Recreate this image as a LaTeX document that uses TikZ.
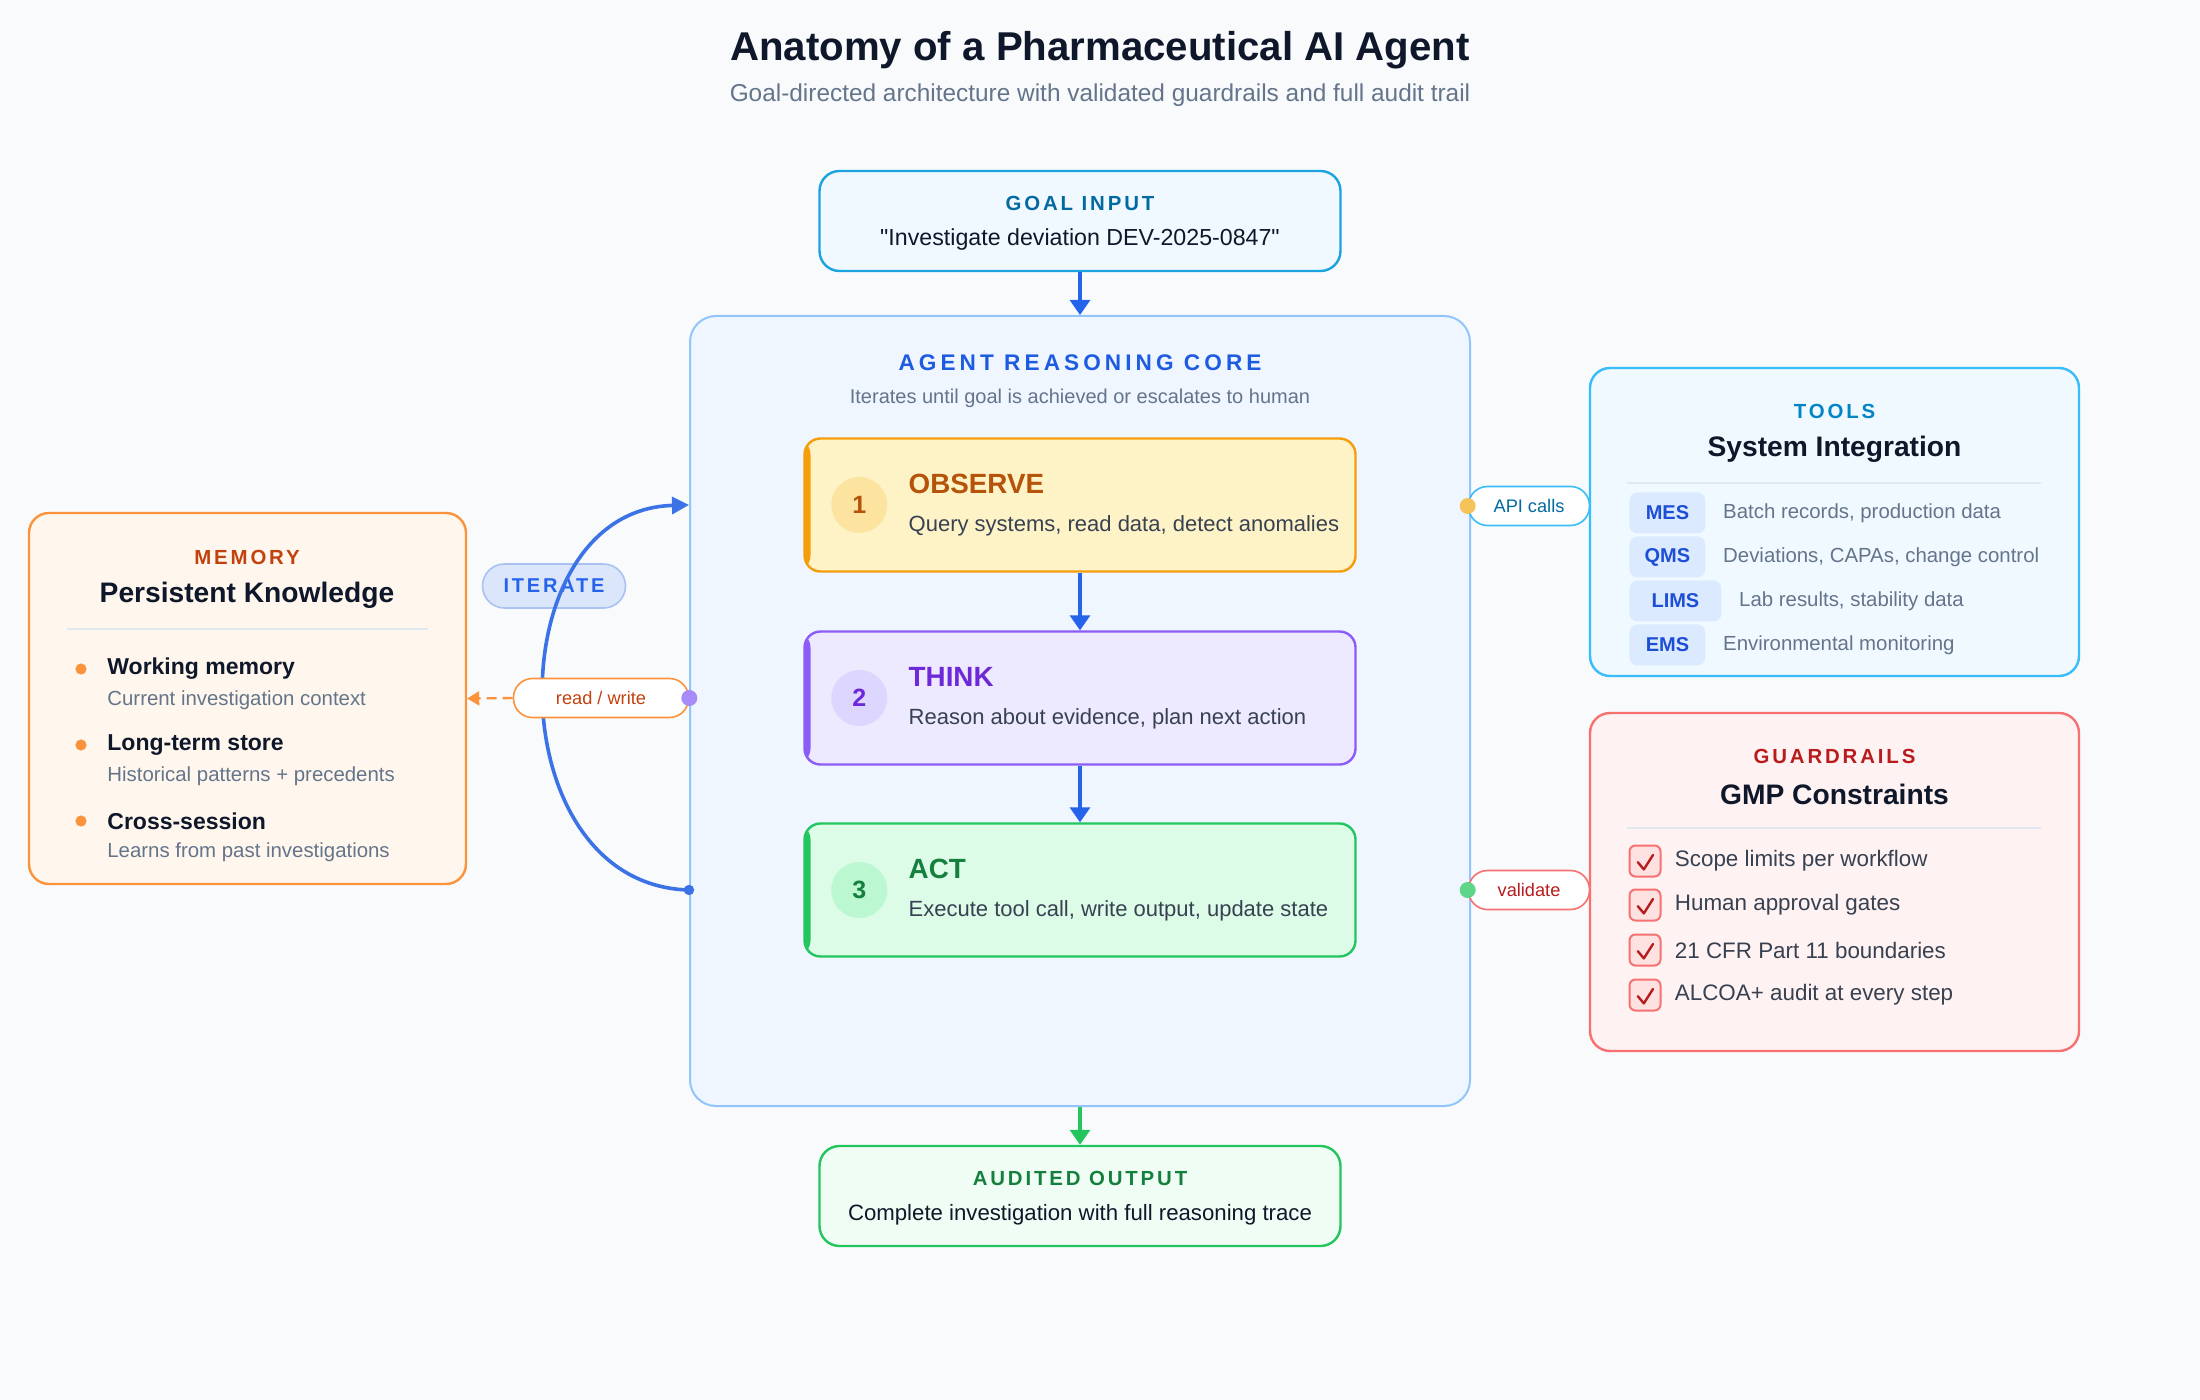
\documentclass[tikz,border=0pt]{standalone}
\usepackage{fontspec}
\setmainfont{Liberation Sans}
\newfontfamily\rawfont{Liberation Sans}
\usepackage{xcolor}
\usetikzlibrary{arrows.meta,positioning,calc}

\definecolor{pageBg}{HTML}{F8FAFC}
\definecolor{ink}{HTML}{0F172A}
\definecolor{muted}{HTML}{64748B}
\definecolor{bodyText}{HTML}{374151}
\definecolor{rule}{HTML}{E2E8F0}
\definecolor{flowBlue}{HTML}{2563EB}
\definecolor{loopBlue}{HTML}{3B73E6}
\definecolor{goalLine}{HTML}{1AA3DE}
\definecolor{goalFill}{HTML}{F0F9FF}
\definecolor{goalText}{HTML}{0369A1}
\definecolor{coreLine}{HTML}{93C5FD}
\definecolor{coreFill}{HTML}{EFF6FF}
\definecolor{coreText}{HTML}{1D5BE0}
\definecolor{obsLine}{HTML}{F59E0B}
\definecolor{obsFill}{HTML}{FEF3C7}
\definecolor{obsDot}{HTML}{FDE3A0}
\definecolor{obsText}{HTML}{B45309}
\definecolor{thkLine}{HTML}{8B5CF6}
\definecolor{thkFill}{HTML}{EDE9FE}
\definecolor{thkDot}{HTML}{DDD6FE}
\definecolor{thkText}{HTML}{6D28D9}
\definecolor{actLine}{HTML}{22C55E}
\definecolor{actFill}{HTML}{DCFCE7}
\definecolor{actDot}{HTML}{BBF7D0}
\definecolor{actText}{HTML}{15803D}
\definecolor{outFill}{HTML}{F0FDF4}
\definecolor{memLine}{HTML}{FB923C}
\definecolor{memFill}{HTML}{FFF7ED}
\definecolor{memText}{HTML}{C2410C}
\definecolor{toolLine}{HTML}{38BDF8}
\definecolor{toolText}{HTML}{0284C7}
\definecolor{tagFill}{HTML}{DBEAFE}
\definecolor{tagText}{HTML}{1D4ED8}
\definecolor{guardLine}{HTML}{F87171}
\definecolor{guardFill}{HTML}{FEF2F2}
\definecolor{guardBox}{HTML}{FEE2E2}
\definecolor{guardText}{HTML}{B91C1C}
\definecolor{iterFill}{HTML}{DBE6FB}
\definecolor{iterLine}{HTML}{A9C2F2}
\definecolor{rwDot}{HTML}{A78BFA}
\definecolor{apiDot}{HTML}{F6C35A}
\definecolor{valDot}{HTML}{5ED68A}

\newcommand{\fs}[1]{\fontsize{#1}{#1}\selectfont}
\newcommand{\spaced}[2]{{\bfseries\addfontfeatures{LetterSpace=#1}#2}}
\newcommand{\tick}[1]{\draw[guardText,line width=1.2pt,line cap=round,line join=round]
  ([xshift=-3.6pt,yshift=-0.6pt]#1.center) -- ([xshift=-0.6pt,yshift=-4.2pt]#1.center) -- ([xshift=4pt,yshift=3pt]#1.center);}

\begin{document}
\begin{tikzpicture}[x=0.5pt,y=-0.5pt,>={Triangle[length=7.5pt,width=10pt]},
  accent/.style={path picture={\fill[#1] (path picture bounding box.north west)
    rectangle ([xshift=3pt]path picture bounding box.south west);}}]
  \tikzstyle{panel}=[draw,rounded corners=10pt,line width=1.2pt]
  \tikzstyle{stepbox}=[draw,rounded corners=8pt,line width=1.2pt,minimum width=275.5pt,minimum height=66.5pt]
  \tikzstyle{numdot}=[circle,minimum size=28pt,inner sep=0pt,font=\fs{12.5}\bfseries]
  \tikzstyle{steptitle}=[anchor=west,inner sep=0pt,font=\fs{13.9}\bfseries]
  \tikzstyle{stepdesc}=[anchor=west,inner sep=0pt,font=\fs{11},text=bodyText]
  \tikzstyle{kicker}=[inner sep=0pt,font=\fs{10.2}]
  \tikzstyle{heading}=[inner sep=0pt,font=\fs{14.1}\bfseries,text=ink]
  \tikzstyle{pill}=[draw,rounded corners=9.5pt,line width=0.8pt,fill=white,minimum height=19.5pt,inner sep=0pt,font=\fs{9.1}]
  \tikzstyle{tag}=[fill=tagFill,rounded corners=4pt,minimum height=20.5pt,inner sep=0pt,font=\fs{10}\bfseries,text=tagText]
  \tikzstyle{item}=[anchor=west,inner sep=0pt,font=\fs{10.2},text=muted]
  \tikzstyle{checkbox}=[draw=guardLine,fill=guardBox,line width=1pt,rounded corners=3pt,minimum size=15.5pt,inner sep=0pt]
  \tikzstyle{flow}=[->,line width=1.6pt,draw=flowBlue]
  \tikzstyle{divider}=[draw=rule,line width=0.8pt]

  \fill[pageBg] (0,0) rectangle (2200,1400);
  \useasboundingbox (0,0) rectangle (2200,1400);

  % heading
  \node[inner sep=0pt,font=\fs{20.1}\bfseries,text=ink] (title) at (1100,50) {Anatomy of a Pharmaceutical AI Agent};
  \node[inner sep=0pt,font=\fs{12.2},text=muted] (subtitle) at (1100,95) {Goal-directed architecture with validated guardrails and full audit trail};

  % goal and output
  \node[panel,draw=goalLine,fill=goalFill,minimum width=260.5pt,minimum height=50pt] (goal) at (1080,221) {};
  \node[kicker,text=goalText] (goalKicker) at (1080,203) {\spaced{14}{GOAL INPUT}};
  \node[inner sep=0pt,font=\fs{11.6}\rawfont,text=ink] (goalText) at (1080,240) {"Investigate deviation DEV-2025-0847"};

  \node[panel,draw=coreLine,fill=coreFill,rounded corners=13pt,line width=1pt,minimum width=390pt,minimum height=395pt] (core) at (1080,711) {};
  \node[inner sep=0pt,font=\fs{11.3},text=coreText] (coreKicker) at (1080,363) {\spaced{18}{AGENT REASONING CORE}};
  \node[inner sep=0pt,font=\fs{10},text=muted] (coreSub) at (1080,398) {Iterates until goal is achieved or escalates to human};

  \node[panel,draw=actLine,fill=outFill,minimum width=260.5pt,minimum height=50pt] (output) at (1080,1196) {};
  \node[kicker,text=actText] (outKicker) at (1080,1178) {\spaced{14}{AUDITED OUTPUT}};
  \node[inner sep=0pt,font=\fs{11.1},text=ink] (outText) at (1080,1215) {Complete investigation with full reasoning trace};

  % reasoning steps
  \node[stepbox,draw=obsLine,fill=obsFill,accent=obsLine] (observe) at (1080,505) {};
  \node[numdot,fill=obsDot,text=obsText] (observeNum) at ([xshift=28pt]observe.west) {1};
  \node[steptitle,text=obsText] (observeTitle) at ([xshift=52.5pt,yshift=10.5pt]observe.west) {OBSERVE};
  \node[stepdesc] (observeDesc) at ([xshift=52.5pt,yshift=-10.5pt]observe.west) {Query systems, read data, detect anomalies};

  \node[stepbox,draw=thkLine,fill=thkFill,accent=thkLine] (think) at (1080,698) {};
  \node[numdot,fill=thkDot,text=thkText] (thinkNum) at ([xshift=28pt]think.west) {2};
  \node[steptitle,text=thkText] (thinkTitle) at ([xshift=52.5pt,yshift=10.5pt]think.west) {THINK};
  \node[stepdesc] (thinkDesc) at ([xshift=52.5pt,yshift=-10.5pt]think.west) {Reason about evidence, plan next action};

  \node[stepbox,draw=actLine,fill=actFill,accent=actLine] (act) at (1080,890) {};
  \node[numdot,fill=actDot,text=actText] (actNum) at ([xshift=28pt]act.west) {3};
  \node[steptitle,text=actText] (actTitle) at ([xshift=52.5pt,yshift=10.5pt]act.west) {ACT};
  \node[stepdesc] (actDesc) at ([xshift=52.5pt,yshift=-10.5pt]act.west) {Execute tool call, write output, update state};

  \draw[flow] (goal.south) -- (core.north);
  \draw[flow] (observe.south) -- (think.north);
  \draw[flow] (think.south) -- (act.north);
  \draw[flow,draw=actLine] (core.south) -- (output.north);

  % memory
  \node[panel,draw=memLine,fill=memFill,minimum width=218.5pt,minimum height=185.5pt] (memory) at (247.5,698.5) {};
  \node[kicker,text=memText] (memKicker) at (247,557) {\spaced{14}{MEMORY}};
  \node[heading] (memTitle) at (247,595) {Persistent Knowledge};
  \draw[divider] (67,629) -- (428,629);
  \fill[memLine] (81,669) circle (2.8pt);
  \node[anchor=west,inner sep=0pt,font=\fs{11.5}\bfseries,text=ink] (memA) at (107,669) {Working memory};
  \node[item] (memAsub) at (107,700) {Current investigation context};
  \fill[memLine] (81,745) circle (2.8pt);
  \node[anchor=west,inner sep=0pt,font=\fs{11.5}\bfseries,text=ink] (memB) at (107,745) {Long-term store};
  \node[item] (memBsub) at (107,776) {Historical patterns + precedents};
  \fill[memLine] (81,821) circle (2.8pt);
  \node[anchor=west,inner sep=0pt,font=\fs{11.5}\bfseries,text=ink] (memC) at (107,821) {Cross-session};
  \node[item] (memCsub) at (107,852) {Learns from past investigations};

  % iterate loop
  \node[draw=iterLine,fill=iterFill,rounded corners=11pt,line width=0.8pt,minimum width=71.5pt,minimum height=22pt,inner sep=0pt,font=\fs{10},text=flowBlue] (iterate) at (554,586) {\spaced{14}{ITERATE}};
  \coordinate (loopStart) at (core.west |- act.center);
  \coordinate (loopEnd) at (core.west |- observe.center);
  \draw[-{Triangle[length=8.5pt,width=8.5pt]},line width=1.8pt,draw=loopBlue] (loopStart) .. controls +(-193,-5) and +(-193,5) .. (loopEnd);
  \fill[loopBlue] (loopStart) circle (2.6pt);

  \node[pill,draw=memLine,fill=white,text=memText,minimum width=87.5pt] (rw) at (601,698) {read / write};
  \draw[-{Triangle[length=6pt,width=7pt]},line width=1.2pt,draw=memLine,dash pattern=on 5pt off 3pt] (rw.west) -- (memory.east);
  \fill[rwDot] (rw.east) circle (4pt);

  % tools
  \node[panel,draw=toolLine,fill=goalFill,minimum width=244.5pt,minimum height=154pt] (tools) at (1834.5,522) {};
  \node[kicker,text=toolText] (toolKicker) at (1834.5,411) {\spaced{14}{TOOLS}};
  \node[heading] (toolTitle) at (1834.5,449) {System Integration};
  \draw[divider] (1627,483) -- (2041,483);
  \node[tag,minimum width=38pt,anchor=west] (mes) at (1629,513) {MES};
  \node[item,right=8.5pt of mes] (mesDesc) {Batch records, production data};
  \node[tag,minimum width=38pt,anchor=west] (qms) at (1629,557) {QMS};
  \node[item,right=8.5pt of qms] (qmsDesc) {Deviations, CAPAs, change control};
  \node[tag,minimum width=46pt,anchor=west] (lims) at (1629,601) {LIMS};
  \node[item,right=8.5pt of lims] (limsDesc) {Lab results, stability data};
  \node[tag,minimum width=38pt,anchor=west] (ems) at (1629,645) {EMS};
  \node[item,right=8.5pt of ems] (emsDesc) {Environmental monitoring};

  \node[pill,draw=toolLine,text=goalText,minimum width=60.5pt] (api) at (1529,506) {API calls};
  \fill[apiDot] (api.west) circle (4pt);

  % guardrails
  \node[panel,draw=guardLine,fill=guardFill,minimum width=244.5pt,minimum height=169pt] (guard) at (1834.5,882) {};
  \node[kicker,text=guardText] (guardKicker) at (1834.5,756) {\spaced{14}{GUARDRAILS}};
  \node[heading] (guardTitle) at (1834.5,794) {GMP Constraints};
  \draw[divider] (1627,828) -- (2041,828);
  \node[checkbox] (chkA) at (1645,861) {};
  \tick{chkA}
  \node[item,right=6.5pt of chkA,font=\fs{11.2},text=bodyText] (chkAtext) {Scope limits per workflow};
  \node[checkbox] (chkB) at (1645,905) {};
  \tick{chkB}
  \node[item,right=6.5pt of chkB,font=\fs{11.2},text=bodyText] (chkBtext) {Human approval gates};
  \node[checkbox] (chkC) at (1645,950) {};
  \tick{chkC}
  \node[item,right=6.5pt of chkC,font=\fs{11.2},text=bodyText] (chkCtext) {21 CFR Part 11 boundaries};
  \node[checkbox] (chkD) at (1645,995) {};
  \tick{chkD}
  \node[item,right=6.5pt of chkD,font=\fs{11.2},text=bodyText] (chkDtext) {ALCOA+ audit at every step};

  \node[pill,draw=guardLine,text=guardText,minimum width=60.5pt] (validate) at (1529,890) {validate};
  \fill[valDot] (validate.west) circle (4pt);
\end{tikzpicture}
\end{document}
